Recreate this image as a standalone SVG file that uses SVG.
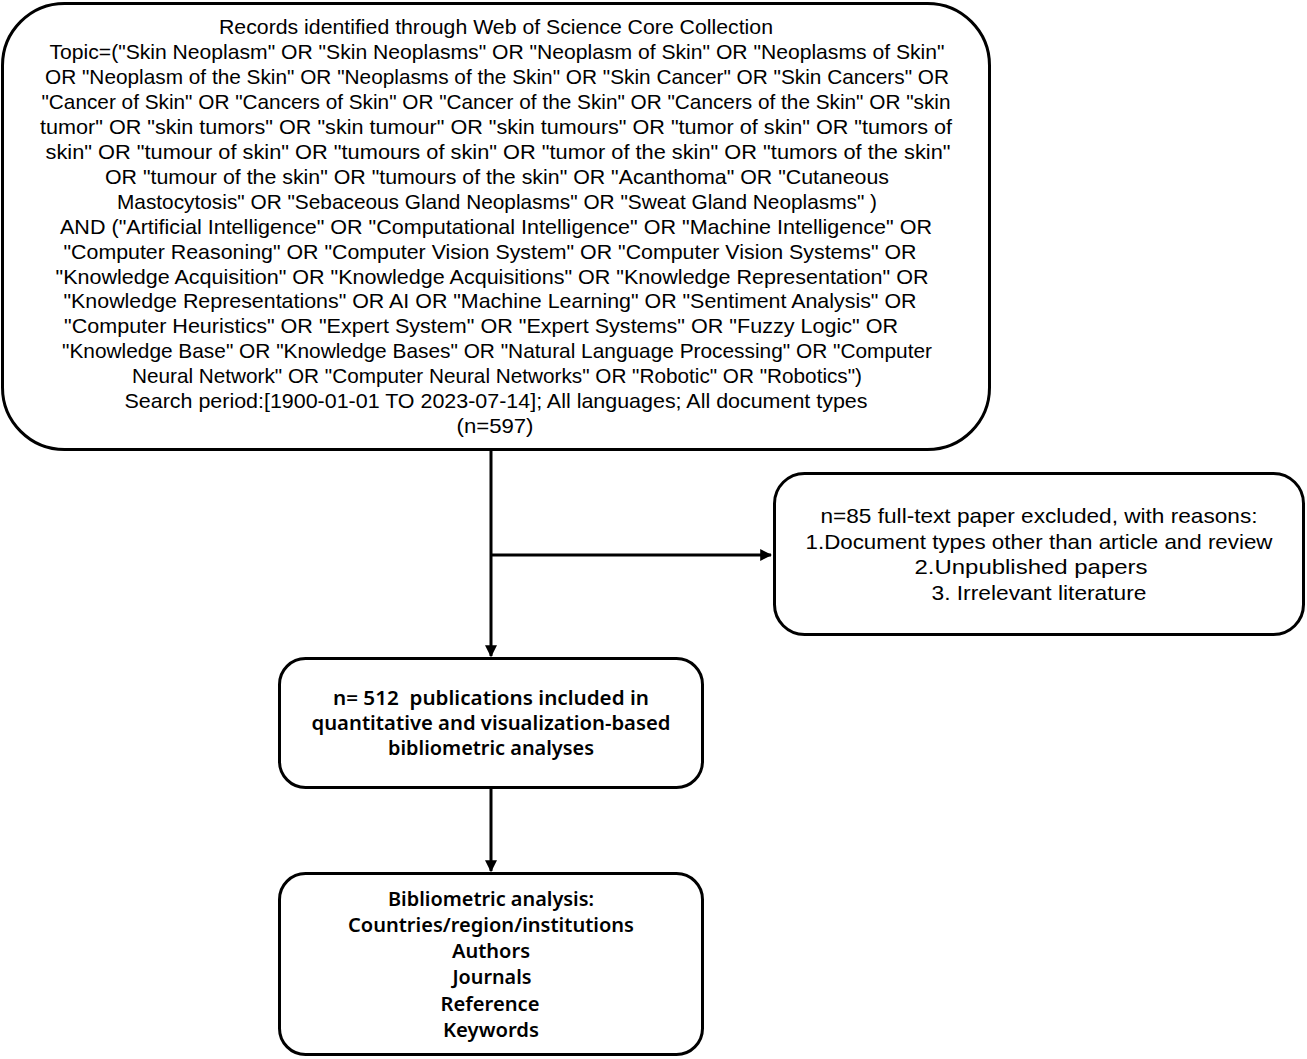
<svg xmlns="http://www.w3.org/2000/svg" width="1307" height="1059" viewBox="0 0 1307 1059">
<style>
.box{fill:#fff;stroke:#000;stroke-width:3}
.t{font-family:"Liberation Sans",Arial,sans-serif;font-size:21px;fill:#000;text-anchor:middle}
.b{font-family:"Noto Sans","Open Sans",sans-serif;font-size:20px;font-weight:600;fill:#000;text-anchor:middle;white-space:pre}
.c{stroke:#000;stroke-width:3;fill:none}
</style>
<defs>
<marker id="ah" viewBox="0 0 10 10" refX="9" refY="5" markerWidth="4" markerHeight="4" orient="auto" markerUnits="strokeWidth">
<path d="M0,0 L10,5 L0,10 Z" fill="#000"/>
</marker>
</defs>
<rect width="1307" height="1059" fill="#fff"/>
<g id="connectors">
<line class="c" x1="491" y1="451" x2="491" y2="656" marker-end="url(#ah)"/>
<line class="c" x1="491" y1="555" x2="771" y2="555" marker-end="url(#ah)"/>
<line class="c" x1="491" y1="789" x2="491" y2="871" marker-end="url(#ah)"/>
</g>
<g id="records">
<rect class="box" x="2.5" y="3.5" width="987" height="446" rx="62" ry="62"/>
<text class="t" x="496" y="34" textLength="554" lengthAdjust="spacingAndGlyphs">Records identified through Web of Science Core Collection</text>
<text class="t" x="497" y="59" textLength="895" lengthAdjust="spacingAndGlyphs">Topic=("Skin Neoplasm" OR "Skin Neoplasms" OR "Neoplasm of Skin" OR "Neoplasms of Skin"</text>
<text class="t" x="497" y="84" textLength="904" lengthAdjust="spacingAndGlyphs">OR "Neoplasm of the Skin" OR "Neoplasms of the Skin" OR "Skin Cancer" OR "Skin Cancers" OR</text>
<text class="t" x="496" y="109" textLength="909" lengthAdjust="spacingAndGlyphs">"Cancer of Skin" OR "Cancers of Skin" OR "Cancer of the Skin" OR "Cancers of the Skin" OR "skin</text>
<text class="t" x="496" y="134" textLength="912" lengthAdjust="spacingAndGlyphs">tumor" OR "skin tumors" OR "skin tumour" OR "skin tumours" OR "tumor of skin" OR "tumors of</text>
<text class="t" x="498" y="159" textLength="905" lengthAdjust="spacingAndGlyphs">skin" OR "tumour of skin" OR "tumours of skin" OR "tumor of the skin" OR "tumors of the skin"</text>
<text class="t" x="497" y="184" textLength="784" lengthAdjust="spacingAndGlyphs">OR "tumour of the skin" OR "tumours of the skin" OR "Acanthoma" OR "Cutaneous</text>
<text class="t" x="497" y="209" textLength="760" lengthAdjust="spacingAndGlyphs">Mastocytosis" OR "Sebaceous Gland Neoplasms" OR "Sweat Gland Neoplasms" )</text>
<text class="t" x="496" y="234" textLength="872" lengthAdjust="spacingAndGlyphs">AND ("Artificial Intelligence" OR "Computational Intelligence" OR "Machine Intelligence" OR</text>
<text class="t" x="490" y="259" textLength="853" lengthAdjust="spacingAndGlyphs">"Computer Reasoning" OR "Computer Vision System" OR "Computer Vision Systems" OR</text>
<text class="t" x="492" y="284" textLength="873" lengthAdjust="spacingAndGlyphs">"Knowledge Acquisition" OR "Knowledge Acquisitions" OR "Knowledge Representation" OR</text>
<text class="t" x="490" y="308" textLength="853" lengthAdjust="spacingAndGlyphs">"Knowledge Representations" OR AI OR "Machine Learning" OR "Sentiment Analysis" OR</text>
<text class="t" x="481" y="333" textLength="834" lengthAdjust="spacingAndGlyphs">"Computer Heuristics" OR "Expert System" OR "Expert Systems" OR "Fuzzy Logic" OR</text>
<text class="t" x="497" y="358" textLength="870" lengthAdjust="spacingAndGlyphs">"Knowledge Base" OR "Knowledge Bases" OR "Natural Language Processing" OR "Computer</text>
<text class="t" x="497" y="383" textLength="730" lengthAdjust="spacingAndGlyphs">Neural Network" OR "Computer Neural Networks" OR "Robotic" OR "Robotics")</text>
<text class="t" x="496" y="408" textLength="743" lengthAdjust="spacingAndGlyphs">Search period:[1900-01-01 TO 2023-07-14]; All languages; All document types</text>
<text class="t" x="495" y="433" textLength="77" lengthAdjust="spacingAndGlyphs">(n=597)</text>
</g>
<g id="excluded">
<rect class="box" x="774.5" y="473.5" width="529" height="161" rx="30" ry="30"/>
<text class="t" x="1039" y="523" textLength="437" lengthAdjust="spacingAndGlyphs">n=85 full-text paper excluded, with reasons:</text>
<text class="t" x="1039" y="549" textLength="467" lengthAdjust="spacingAndGlyphs">1.Document types other than article and review</text>
<text class="t" x="1031" y="574" textLength="233" lengthAdjust="spacingAndGlyphs">2.Unpublished papers</text>
<text class="t" x="1039" y="600" textLength="215" lengthAdjust="spacingAndGlyphs">3. Irrelevant literature</text>
</g>
<g id="included">
<rect class="box" x="279.5" y="658.5" width="423" height="129" rx="26" ry="26"/>
<text class="b" x="491" y="705" textLength="316" lengthAdjust="spacingAndGlyphs" xml:space="preserve">n= 512  publications included in</text>
<text class="b" x="491" y="730" textLength="359" lengthAdjust="spacingAndGlyphs">quantitative and visualization-based</text>
<text class="b" x="491" y="755" textLength="206" lengthAdjust="spacingAndGlyphs">bibliometric analyses</text>
</g>
<g id="analysis">
<rect class="box" x="279.5" y="873.5" width="423" height="181" rx="26" ry="26"/>
<text class="b" x="491" y="906" textLength="206" lengthAdjust="spacingAndGlyphs">Bibliometric analysis:</text>
<text class="b" x="491" y="932" textLength="286" lengthAdjust="spacingAndGlyphs">Countries/region/institutions</text>
<text class="b" x="491" y="958" textLength="78" lengthAdjust="spacingAndGlyphs">Authors</text>
<text class="b" x="492" y="984" textLength="79" lengthAdjust="spacingAndGlyphs">Journals</text>
<text class="b" x="490" y="1011" textLength="99" lengthAdjust="spacingAndGlyphs">Reference</text>
<text class="b" x="491" y="1037" textLength="96" lengthAdjust="spacingAndGlyphs">Keywords</text>
</g>
</svg>
